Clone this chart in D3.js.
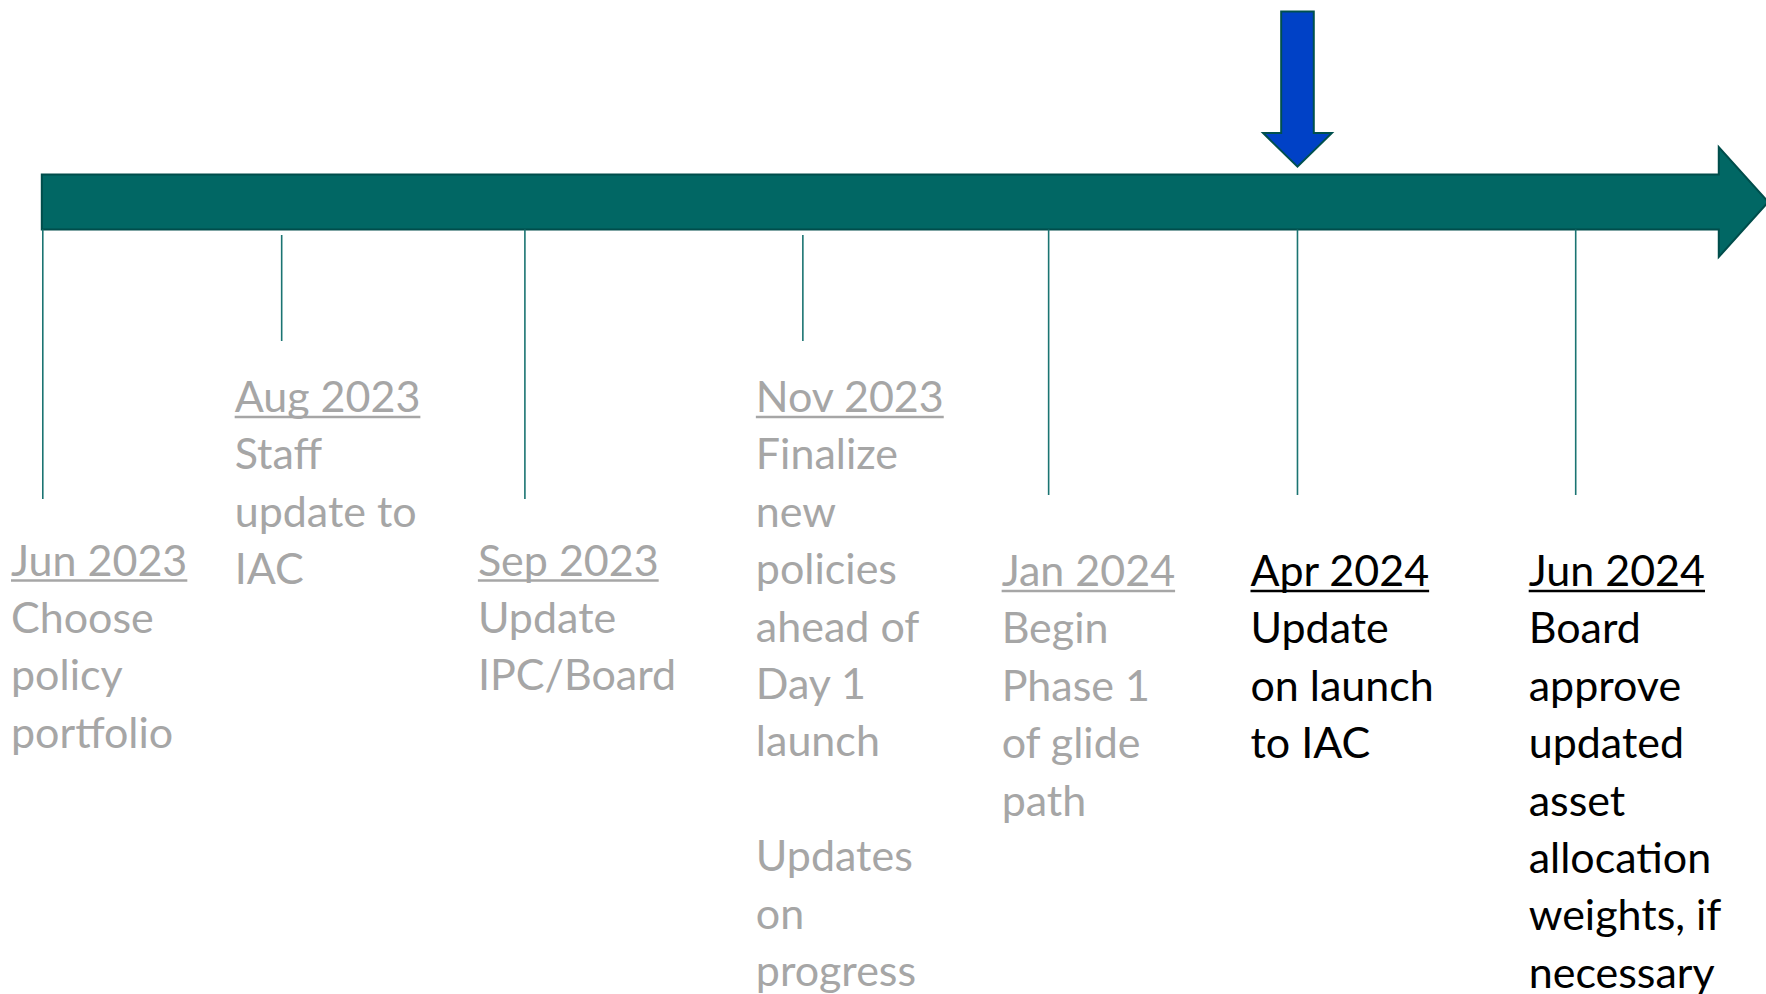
<!DOCTYPE html>
<meta charset="utf-8">
<style>
    body { margin: 0; background: #fff; }
    svg { display: block; font-family: Lato, "Open Sans", sans-serif; }
    .stem { stroke: #1b7472; stroke-width: 1.6px; }
</style>
<svg width="1766" height="994"></svg>
<script src="https://d3js.org/d3.v7.min.js"></script>
<script>

    // milestones
    var dates = ["Jun 2023", "Aug 2023", "Sep 2023", "Nov 2023", "Jan 2024", "Apr 2024", "Jun 2024"];
    var steps = [
        ["Choose", "policy", "portfolio"],
        ["Staff", "update to", "IAC"],
        ["Update", "IPC/Board"],
        ["Finalize", "new", "policies", "ahead of", "Day 1", "launch", "", "Updates", "on", "progress"],
        ["Begin", "Phase 1", "of glide", "path"],
        ["Update", "on launch", "to IAC"],
        ["Board", "approve", "updated", "asset", "allocation", "weights, if", "necessary"]
    ];
    // where each milestone sits along the timeline (in slot units)
    var slots = [0, 0.935, 1.887, 2.975, 3.937, 4.911, 6];
    var done = [true, true, true, true, true, false, false];
    // text row: 0 = raised, 1 = low, 2 = a bit lower
    var rows = [1, 0, 1, 0, 2, 2, 2];
    var current = 5;   // "you are here"
    var timelineEnd = 6.56;

    var svg = d3.select("svg");

    var x = d3.scaleLinear().domain([0, 6]).range([42.8, 1575.7]);
    var rowY = d3.scaleOrdinal().domain([0, 1, 2]).range([412, 575.5, 586]);
    var stemEnd = d3.scaleOrdinal().domain([0, 1, 2]).range([341, 499, 495]);

    var bar = {top: 174.5, bottom: 229.5, headTop: 147, headBottom: 257},
        fontSize = 43,
        lineH = 57.4;

    var line = d3.line();

    // main timeline arrow
    var xe = x(timelineEnd), mid = (bar.top + bar.bottom) / 2;
    svg.append("path")
        .attr("d", line([
            [x(0) - 1, bar.top], [xe, bar.top], [xe, bar.headTop],
            [xe + (mid - bar.headTop) * 0.9, mid],
            [xe, bar.headBottom], [xe, bar.bottom], [x(0) - 1, bar.bottom]
        ]) + "Z")
        .attr("fill", "#016764")
        .attr("stroke", "#004d4b")
        .attr("stroke-width", 2);

    // "now" marker
    var cx = x(slots[current]);
    svg.append("path")
        .attr("d", line([
            [cx - 16.3, 11.5], [cx + 16.3, 11.5], [cx + 16.3, 133], [cx + 34.4, 133],
            [cx, 166.7], [cx - 34.4, 133], [cx - 16.3, 133]
        ]) + "Z")
        .attr("fill", "#0041c6")
        .attr("stroke", "#00504e")
        .attr("stroke-width", 2);

    var ms = dates.map(function(d, i) {
        return {date: d, lines: steps[i], pos: slots[i], done: done[i], row: rows[i]};
    });

    var g = svg.selectAll(".milestone")
        .data(ms)
        .enter().append("g")
        .attr("class", "milestone");

    g.append("line")
        .attr("class", "stem")
        .attr("x1", function(d) { return x(d.pos); })
        .attr("x2", function(d) { return x(d.pos); })
        .attr("y1", function(d) { return d.row === 0 ? 235 : bar.bottom; })
        .attr("y2", function(d) { return stemEnd(d.row); });

    g.each(function(d) {
        var el = d3.select(this),
            color = d.done ? "#a6a6a6" : "#000",
            tx = Math.max(11, x(d.pos) - 47),
            ty = rowY(d.row);

        var label = el.append("text")
            .attr("x", tx)
            .attr("y", ty)
            .attr("fill", color)
            .style("font-size", fontSize + "px")
            .text(d.date);

        var w = label.node().getComputedTextLength();
        el.append("line")
            .attr("x1", tx)
            .attr("x2", tx + w)
            .attr("y1", ty + 5)
            .attr("y2", ty + 5)
            .attr("stroke", color)
            .attr("stroke-width", 2.5);

        el.selectAll(".desc")
            .data(d.lines)
            .enter().append("text")
            .attr("class", "desc")
            .attr("x", tx)
            .attr("y", function(t, j) { return ty + (j + 1) * lineH; })
            .attr("fill", color)
            .style("font-size", fontSize + "px")
            .text(function(t) { return t; });
    });

</script>
